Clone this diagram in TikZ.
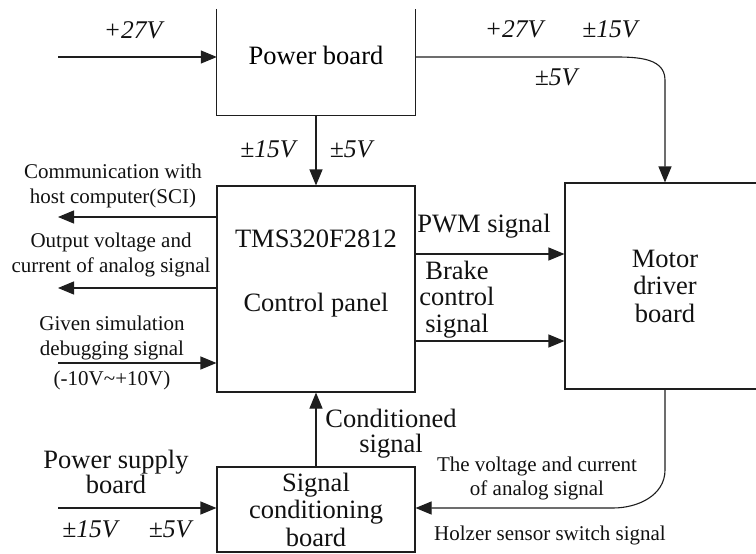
\documentclass[tikz,border=0pt]{standalone}
\usepackage{fontspec}
\setmainfont{Liberation Serif}
\usepackage{tikz}
\usetikzlibrary{arrows.meta,positioning,calc}
\definecolor{inkLine}{HTML}{1E1E1E}
\definecolor{inkText}{HTML}{111111}
\newcommand{\bigTxt}{\fontsize{26.5}{27.5}\selectfont}
\newcommand{\smallTxt}{\fontsize{21}{24.5}\selectfont}
\newcommand{\voltTxt}{\fontsize{25.5}{25.5}\selectfont\itshape}
\tikzset{
  >=Latex,
  blockBox/.style={draw=inkLine,line width=1.1pt,fill=white,inner sep=0pt,
                   minimum width=198pt,align=center,text=inkText},
  openBox/.style={draw=none,inner sep=0pt,minimum width=198pt},
  flow/.style={-{Triangle[length=16pt,width=13pt]},line width=1.1pt,inkLine},
  lblBig/.style={font=\bigTxt,text=inkText,inner sep=0pt,align=center,anchor=base},
  lblSmall/.style={font=\smallTxt,text=inkText,inner sep=0pt,align=center,anchor=base},
  lblVolt/.style={font=\voltTxt,text=inkText,inner sep=0pt,anchor=base},
}

\begin{document}
\begin{tikzpicture}[x=1pt,y=-1pt]
\useasboundingbox (0,0) rectangle (756,554);
\clip (0,0) rectangle (756,554);

% Boards.
\node[openBox,minimum height=120pt,font=\bigTxt] (power) at (316,55) {Power board};
\draw[inkLine,line width=1.1pt]
  ([yshift=-14pt]power.north west) -- (power.south west) --
  (power.south east) -- ([yshift=-14pt]power.north east);

\node[blockBox,minimum height=206pt] (ctrl) at (316,289) {};
\node[lblBig] (dspName) at (316,247) {TMS320F2812};
\node[lblBig] (ctrlName) at (316,311) {Control panel};

\node[blockBox,minimum width=200pt,minimum height=206pt,font=\bigTxt]
  (motor) at (665,286) {Motor\\driver\\board};

\node[blockBox,minimum height=85pt,font=\bigTxt]
  (sig) at (316,509.5) {Signal\\conditioning\\board};

% Free ends and bends.
\coordinate (in27)   at (58,57);
\coordinate (sciOut) at (58,217);
\coordinate (anaOut) at (58,288);
\coordinate (simIn)  at (58,363);
\coordinate (psIn)   at (58,508);
\coordinate (bendA)  at (607,57);
\coordinate (bendB)  at (665,80);
\coordinate (bendC)  at (665,470);
\coordinate (bendD)  at (613,508);

% Connectors.
\draw[flow] (in27) -- (power.west |- in27);
\draw[flow] (power.east |- bendA) -- (bendA) to[out=0,in=90] (bendB)
  -- (motor.north);
\draw[flow] (power.south) -- (ctrl.north);
\draw[flow] (ctrl.west |- sciOut) -- (sciOut);
\draw[flow] (ctrl.west |- anaOut) -- (anaOut);
\draw[flow] (simIn) -- (ctrl.west |- simIn);
\draw[flow] ([yshift=35pt]ctrl.east) -- ([yshift=35pt]ctrl.east -| motor.west);
\draw[flow] ([yshift=-52pt]ctrl.east) -- ([yshift=-52pt]ctrl.east -| motor.west);
\draw[flow] (sig.north) -- (ctrl.south);
\draw[flow] (psIn) -- (sig.west |- psIn);
\draw[flow] (motor.south) -- (bendC) to[out=-90,in=0] (bendD) -- (sig.east |- bendD);

% Voltage labels.
\node[lblVolt] (v27in)  at (133,38) {+27V};
\node[lblVolt] (v27out) at (514,37) {+27V};
\node[lblVolt] (v15out) at (610,37) {±15V};
\node[lblVolt] (v5out)  at (556,85) {±5V};
\node[lblVolt] (v15dn)  at (268,157) {±15V};
\node[lblVolt] (v5dn)   at (351,157) {±5V};
\node[lblVolt] (v15ps)  at (90,537) {±15V};
\node[lblVolt] (v5ps)   at (170,537) {±5V};

% Signal labels (base = last line).
\node[lblSmall] (sciLbl) at (113,203) {Communication with\\host computer(SCI)};
\node[lblSmall] (anaLbl) at (111,272) {Output voltage and\\current of analog signal};
\node[lblSmall] (simLbl) at (112,355) {Given simulation\\debugging signal};
\node[lblSmall] (simRng) at (112,385) {(-10V\textasciitilde+10V)};
\node[lblBig]   (pwmLbl) at (484,232) {PWM signal};
\node[lblBig,font=\fontsize{26.5}{26.5}\selectfont] (brkLbl) at (457,332) {Brake\\control\\signal};
\node[lblBig,font=\fontsize{26.5}{24.5}\selectfont] (condLbl) at (391,452) {Conditioned\\signal};
\node[lblBig,font=\fontsize{26.5}{25}\selectfont] (psLbl)  at (116,493) {Power supply\\board};
\node[lblSmall,font=\fontsize{21}{23.5}\selectfont] (fbLbl)  at (537,495) {The voltage and current\\of analog signal};
\node[lblSmall] (hallLbl) at (550,540) {Holzer sensor switch signal};

\end{tikzpicture}
\end{document}
